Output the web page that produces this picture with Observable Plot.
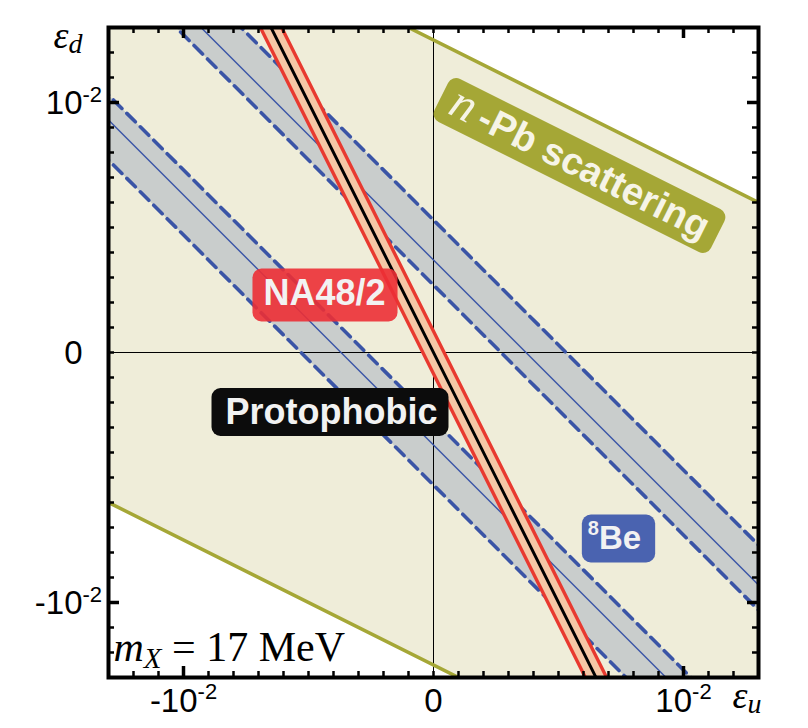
<!DOCTYPE html>
<html>
<head>
<meta charset="utf-8">
<script src="https://cdn.jsdelivr.net/npm/d3@7"></script>
<script src="https://cdn.jsdelivr.net/npm/@observablehq/plot@0.6"></script>
<style>
html,body{margin:0;padding:0;background:#fff;}
#chart svg{display:block;}
</style>
</head>
<body>
<div id="chart"></div>
<script>
// ---------- data (all couplings in units of 10^-2) ----------
const xDomain = [-1.3, 1.3];          // eps_u
const yDomain = [-1.3, 1.3];          // eps_d
const majorTicks = [-1, 1];
const minorTicks = [-1.2, -1.1, -0.9, -0.8, -0.7, -0.6, -0.5, -0.4, -0.3, -0.2, -0.1, 0,
                    0.1, 0.2, 0.3, 0.4, 0.5, 0.6, 0.7, 0.8, 0.9, 1.1, 1.2];
const xTickValues = [-1, 0, 1];
const xTickLabels = ["-10^-2", "0", "10^-2"];
const yTickValues = [-1, 0, 1];
const yTickBase = ["-10", "0", "10"];
const yTickSup = ["-2", "", "-2"];

// constraints written as  a*eps_u + b*eps_d = c
const nPbBounds = [-2.5, 2.5];        // eps_n = eps_u + 2 eps_d
const na48Bounds = [-0.085, 0.085];   // eps_p = 2 eps_u + eps_d
const protophobicValue = [0];         // eps_p = 0
const be8Edges = [0.27, 0.53];        // |eps_u + eps_d| band edges
const be8Central = 0.37;              // |eps_u + eps_d| central value
const be8Signs = [-1, 1];

const labelTexts = ["NA48/2", "Protophobic", "8Be"];
const labelU = [-0.436, -0.408, 0.724];
const labelD = [0.236, -0.238, -0.744];
const labelSizes = [36, 36, 33];
const npbLabel = ["n-Pb scattering"];
const npbLabelU = [0.584];
const npbLabelD = [0.748];
const npbAngle = 26.57;

// ---------- styling ----------
const C = {
  beige: "#efedd9", grey: "#c9cdcc", blue: "#3a54a6", red: "#e8392f",
  peach: "#f5c7a6", olive: "#a5a736", black: "#000"
};
const uSpan = [-3, 3];
const lineOf = (a, b, c) => uSpan.map(u => ({u, d: (c - a * u) / b, c}));
const bandOf = (a, b, c1, c2) => uSpan.map(u => ({u, d1: (c1 - a * u) / b, d2: (c2 - a * u) / b}));

const be8DashData = be8Signs.flatMap(s => be8Edges.flatMap(e => lineOf(1, 1, s * e)));
const be8CenterData = be8Signs.flatMap(s => lineOf(1, 1, s * be8Central));
const na48LineData = na48Bounds.flatMap(c => lineOf(2, 1, c));
const protoData = protophobicValue.flatMap(c => lineOf(2, 1, c));
const nPbLineData = nPbBounds.flatMap(c => lineOf(1, 2, c));

const innerH = 650, innerW = 650;
const sans = "Liberation Sans, Arial, Helvetica, sans-serif";
const serif = "Liberation Serif, Times New Roman, serif";

const plot = Plot.plot({
  width: 808, height: 728,
  marginLeft: 108, marginRight: 50, marginTop: 27, marginBottom: 51,
  x: {domain: xDomain, axis: null},
  y: {domain: yDomain, axis: null},
  style: {background: "white"},
  marks: [
    Plot.areaY(bandOf(1, 2, nPbBounds[0], nPbBounds[1]), {x: "u", y1: "d1", y2: "d2", fill: C.beige, clip: true}),
    ...be8Signs.map(s => Plot.areaY(bandOf(1, 1, s * be8Edges[0], s * be8Edges[1]),
      {x: "u", y1: "d1", y2: "d2", fill: C.grey, clip: true})),
    Plot.ruleX([0], {stroke: "black", strokeWidth: 1}),
    Plot.ruleY([0], {stroke: "black", strokeWidth: 1}),
    Plot.line(be8CenterData, {x: "u", y: "d", z: "c", stroke: C.blue, strokeWidth: 1.4, clip: true}),
    Plot.line(be8DashData, {x: "u", y: "d", z: "c", stroke: C.blue, strokeWidth: 3.6, strokeDasharray: "12,7", clip: true}),
    Plot.areaY(bandOf(2, 1, na48Bounds[0], na48Bounds[1]), {x: "u", y1: "d1", y2: "d2", fill: C.peach, clip: true}),
    Plot.line(na48LineData, {x: "u", y: "d", z: "c", stroke: C.red, strokeWidth: 3.4, clip: true}),
    Plot.line(protoData, {x: "u", y: "d", z: "c", stroke: C.black, strokeWidth: 3, clip: true}),
    Plot.line(nPbLineData, {x: "u", y: "d", z: "c", stroke: C.olive, strokeWidth: 3.5, clip: true}),
    // ticks (inward, on all four sides)
    Plot.ruleX(minorTicks, {x: d => d, insetTop: innerH - 6, stroke: "black", strokeWidth: 2.5}),
    Plot.ruleX(minorTicks, {x: d => d, insetBottom: innerH - 6, stroke: "black", strokeWidth: 2.5}),
    Plot.ruleY(minorTicks, {y: d => d, insetRight: innerW - 6, stroke: "black", strokeWidth: 2.5}),
    Plot.ruleY(minorTicks, {y: d => d, insetLeft: innerW - 6, stroke: "black", strokeWidth: 2.5}),
    Plot.ruleX(majorTicks, {x: d => d, insetTop: innerH - 11, stroke: "black", strokeWidth: 3.5}),
    Plot.ruleX(majorTicks, {x: d => d, insetBottom: innerH - 11, stroke: "black", strokeWidth: 3.5}),
    Plot.ruleY(majorTicks, {y: d => d, insetRight: innerW - 11, stroke: "black", strokeWidth: 3.5}),
    Plot.ruleY(majorTicks, {y: d => d, insetLeft: innerW - 11, stroke: "black", strokeWidth: 3.5}),
    Plot.frame({stroke: "black", strokeWidth: 4}),
    // tick labels
    Plot.text(xTickValues, {x: d => d, text: (d, i) => xTickLabels[i], frameAnchor: "bottom", dy: 34,
      lineAnchor: "bottom", textAnchor: "middle", fontSize: 33, fontFamily: sans, fill: "black"}),
    Plot.text(yTickValues, {y: d => d, text: (d, i) => yTickBase[i], frameAnchor: "left", dx: -26, dy: 11,
      lineAnchor: "bottom", textAnchor: "end", fontSize: 33, fontFamily: sans, fill: "black"}),
    Plot.text(yTickValues, {y: d => d, text: (d, i) => yTickSup[i], frameAnchor: "left", dx: -26, dy: -1,
      lineAnchor: "bottom", textAnchor: "start", fontSize: 22, fontFamily: sans, fill: "black"}),
    // axis names and mass label
    Plot.text(["εd"], {text: d => d, frameAnchor: "top-left", dx: -55, dy: 20, lineAnchor: "bottom",
      textAnchor: "start", fontSize: 38, fontFamily: serif, fill: "black"}),
    Plot.text(["εu"], {text: d => d, frameAnchor: "bottom-right", dx: -26, dy: 30, lineAnchor: "bottom",
      textAnchor: "start", fontSize: 38, fontFamily: serif, fill: "black"}),
    Plot.text(["mX = 17 MeV"], {text: d => d, frameAnchor: "bottom-left", dx: 5, dy: -17, lineAnchor: "bottom",
      textAnchor: "start", fontSize: 42, fontFamily: serif, fill: "black"}),
    // boxed labels
    Plot.text(labelTexts, {x: (d, i) => labelU[i], y: (d, i) => labelD[i], text: d => d,
      fontSize: (d, i) => labelSizes[i], fontWeight: "bold", fontFamily: sans, fill: "#f2f2f2",
      textAnchor: "middle", lineAnchor: "middle"}),
    Plot.text(npbLabel, {x: (d, i) => npbLabelU[i], y: (d, i) => npbLabelD[i], text: d => d,
      rotate: npbAngle, fontSize: 38, fontWeight: "bold", fontFamily: sans, fill: "#f6f4e6",
      textAnchor: "middle", lineAnchor: "middle"})
  ]
});

document.getElementById("chart").appendChild(plot);

// ---------- rich text (super/subscripts, italics) ----------
const rich = {
  "-10^-2": [{t: "-10"}, {t: "-2", shift: -13, size: 22}],
  "10^-2": [{t: "10"}, {t: "-2", shift: -13, size: 22}],
  "8Be": [{t: "8", shift: -14, size: 20}, {t: "Be"}],
  "n-Pb scattering": [{t: "n", italic: true, family: serif, weight: "normal", size: 48}, {t: "\u2009-Pb scattering"}],
  "mX = 17 MeV": [{t: "m", italic: true}, {t: "X", italic: true, shift: 7, size: 29}, {t: " = 17 MeV"}],
  "εd": [{t: "ε", italic: true}, {t: "d", italic: true, shift: 5, size: 28}],
  "εu": [{t: "ε", italic: true}, {t: "u", italic: true, shift: 5, size: 28}]
};
const NS = "http://www.w3.org/2000/svg";
plot.querySelectorAll("text").forEach(t => {
  const segs = rich[t.textContent];
  if (!segs) return;
  while (t.firstChild) t.removeChild(t.firstChild);
  let shift = 0;
  segs.forEach(s => {
    const ts = document.createElementNS(NS, "tspan");
    ts.textContent = s.t;
    const target = s.shift || 0;
    if (target - shift) ts.setAttribute("dy", target - shift);
    shift = target;
    if (s.size) ts.setAttribute("font-size", s.size);
    if (s.italic) ts.setAttribute("font-style", "italic");
    if (s.family) ts.setAttribute("font-family", s.family);
    if (s.weight) ts.setAttribute("font-weight", s.weight);
    ts.setAttribute("xml:space", "preserve");
    t.appendChild(ts);
  });
  t.setAttribute("xml:space", "preserve");
  t.style.whiteSpace = "pre";
});

// ---------- rounded label boxes ----------
const boxes = {
  "NA48/2": {fill: "#ec2f35", opacity: 0.9, padL: 11, padR: 12, top: -25, bottom: 28},
  "Protophobic": {fill: "#0c0c0c", opacity: 1, padL: 14, padR: 11, top: -24, bottom: 24},
  "8Be": {fill: "#4a63b0", opacity: 1, padL: 6, padR: 14, top: -24, bottom: 24},
  "n-Pb scattering": {fill: "#a5a736", opacity: 1, padL: 12, padR: 12, top: -24, bottom: 24}
};
plot.querySelectorAll("text").forEach(t => {
  const b = boxes[t.textContent.replace("\u2009", "")];
  if (!b) return;
  const bb = t.getBBox();
  const r = document.createElementNS(NS, "rect");
  r.setAttribute("x", bb.x - b.padL);
  r.setAttribute("width", bb.width + b.padL + b.padR);
  r.setAttribute("y", b.top);
  r.setAttribute("height", b.bottom - b.top);
  r.setAttribute("rx", 9);
  r.setAttribute("fill", b.fill);
  r.setAttribute("fill-opacity", b.opacity);
  r.setAttribute("stroke", "none");
  const tr = t.getAttribute("transform");
  if (tr) r.setAttribute("transform", tr);
  t.parentNode.insertBefore(r, t);
});
</script>
</body>
</html>
